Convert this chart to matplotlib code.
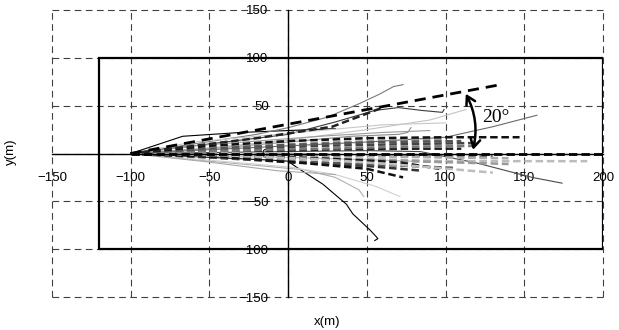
import numpy as np
import matplotlib
matplotlib.use("Agg")
import matplotlib.pyplot as plt
from matplotlib.patches import Rectangle

plt.rcParams['font.family'] = ['Liberation Sans', 'DejaVu Sans']

# axis ticks
x_ticks = [-150, -100, -50, 0, 50, 100, 150, 200]
y_ticks = [-150, -100, -50, 0, 50, 100, 150]

# region box (x0, y0, x1, y1)
box = [-120, -100, 200, 100]

# trajectories (x list, y list)
solid_x = [
    [-100, -50, -10, 0, 5, 22, 37, 41, 52, 56, 57, 55],
    [-100, -67, -30, 0, 30],
    [-100, -60, -20, 0, 25, 45, 58, 67, 73],
    [-100, -50, 0, 30, 55, 70, 85, 98, 99],
    [-100, -50, 0, 50, 100, 130, 158],
    [-100, -50, 0, 50, 90, 113],
    [-100, -50, 0, 40, 70, 76, 78],
    [-100, -50, 0, 50, 84, 120, 155, 174],
    [-100, -50, -10, 10, 30, 45, 48],
    [-100, -50, 0, 30, 55, 71],
    [-100, -50, -7, 30],
    [-100, -60, -20, 20, 60, 100],
    [-100, -60, -20, 20, 60, 90],
    [-100, -50, 0, 40, 80],
]
solid_y = [
    [0, -4, -7, -8, -14, -32, -53, -63, -80, -87, -89, -91],
    [0, 18, 22, 24, 26],
    [0, 10, 20, 27, 38, 52, 62, 70, 72],
    [0, 10, 20, 33, 45, 48, 45, 43, 46],
    [0, 4, 8, 12, 17, 28, 40],
    [0, 6, 14, 25, 35, 46],
    [0, 5, 12, 18, 20, 22, 27],
    [0, 1, 2, 3, 2, -10, -25, -31],
    [0, -8, -14, -17, -25, -38, -45],
    [0, -7, -14, -22, -34, -45],
    [0, -9, -18, -22],
    [0, 12, 18, 24, 30, 32],
    [0, 8, 13, 18, 22, 24],
    [0, -3, -4, -6, -8],
]
solid_c = ['#000000', '#000000', '#7a7a7a', '#3a3a3a', '#6a6a6a', '#c4c4c4',
           '#8a8a8a', '#4a4a4a', '#b0b0b0', '#d0d0d0', '#a8a8a8', '#c8c8c8',
           '#9a9a9a', '#bdbdbd']

dash_x = [
    [-100, -40, 20, 80, 120],
    [-100, -40, 20, 80, 110],
    [-100, -40, 20, 80, 130],
    [-100, -40, 20, 80, 100],
    [-100, -40, 20, 70, 100],
    [-100, -40, 20, 90, 140],
    [-100, -40, 0, 50, 85],
    [-100, -40, 20, 70, 120],
    [-100, -50, 0, 60, 100, 150, 190],
    [-100, -40, 20, 80, 140],
    [-100, -50, 0, 60, 105],
    [-100, -50, 0, 60, 110],
    [-100, -40, 10, 50, 73],
    [-100, -40, 20, 70, 96],
    [-100, -40, 20, 80, 130],
    [-100, -50, 0, 50, 100, 147],
    [-100, -60, -20, 28, 60],
]
dash_y = [
    [0, 4, 8, 10, 11],
    [0, 2, 4, 5, 5],
    [0, -1, -2, -3, -3],
    [0, -3, -6, -8, -9],
    [0, 6, 11, 14, 15],
    [0, 1, -1, -4, -5],
    [0, -5, -9, -13, -18],
    [0, 3, 5, 7, 8],
    [0, -1, -3, -6, -8, -8, -8],
    [0, -2, -5, -8, -11],
    [0, -4, -8, -12, -15],
    [0, 5, 9, 12, 13],
    [0, -4, -10, -16, -25],
    [0, -2, -5, -9, -16],
    [0, -2, -6, -13, -20],
    [0, 8, 13, 16, 17, 17],
    [0, 8, 16, 28, 48],
]
dash_c = ['#444444', '#222222', '#666666', '#888888', '#999999', '#aaaaaa',
          '#333333', '#777777', '#bbbbbb', '#999999', '#555555', '#555555',
          '#111111', '#1a1a1a', '#bcbcbc', '#111111', '#222222']

# reference lines: 20 degree line and the 0 line
ref20_x = [-100, 135]
ref20_y = [0, 72]
ref0_x = [-100, 200]
ref0_y = [0, 0]

fig = plt.figure(figsize=(6.19, 3.30), dpi=100)
ax = fig.add_axes([52 / 619, 33 / 330, 551 / 619, 287 / 330])
ax.set_xlim(-150, 200)
ax.set_ylim(-150, 150)
ax.set_xticks(x_ticks)
ax.set_yticks(y_ticks)
ax.set_xticklabels([str(v).replace('-', '\u2212') for v in x_ticks])
ax.set_yticklabels([str(v).replace('-', '\u2212') for v in y_ticks])

for s in ['top', 'right']:
    ax.spines[s].set_visible(False)
ax.spines['left'].set_position(('data', 0))
ax.spines['bottom'].set_position(('data', 0))
ax.spines['left'].set_linewidth(1.0)
ax.spines['bottom'].set_linewidth(1.0)
ax.tick_params(axis='x', length=0, pad=13, labelsize=9.5)
ax.tick_params(axis='y', length=0, pad=14, labelsize=9.5)

# dashed grid incl. outer border
for v in x_ticks:
    ax.axvline(v, color='#404040', lw=0.8, ls=(0, (6, 4)), zorder=0, clip_on=False)
for v in y_ticks:
    ax.axhline(v, color='#404040', lw=0.8, ls=(0, (6, 4)), zorder=0, clip_on=False)

ax.add_patch(Rectangle((box[0], box[1]), box[2] - box[0], box[3] - box[1],
                       fill=False, ec='black', lw=1.6, zorder=3))

for xs, ys, c in zip(solid_x, solid_y, solid_c):
    ax.plot(xs, ys, color=c, lw=0.8, zorder=2)
for xs, ys, c in zip(dash_x, dash_y, dash_c):
    ax.plot(xs, ys, color=c, lw=1.8, ls=(0, (3, 1.5)), zorder=2)

ax.plot(ref20_x, ref20_y, color='black', lw=2.0, ls=(0, (4, 2.5)), zorder=4)
ax.plot(ref0_x, ref0_y, color='black', lw=2.0, ls=(0, (3, 1.5)), zorder=4)

ax.annotate('', xy=(112, 65), xytext=(117, 1),
            arrowprops=dict(arrowstyle='<->,head_length=0.6,head_width=0.35',
                            color='black', lw=1.8,
                            connectionstyle='arc3,rad=0.2'), zorder=5)
ax.text(132, 38, '20°', family=['Liberation Serif', 'DejaVu Serif'],
        fontsize=14, ha='center', va='center', zorder=5)

fig.text(327 / 619, 1 - 322 / 330, 'x(m)', ha='center', va='center', fontsize=9.5)
fig.text(11 / 619, 1 - 152 / 330, 'y(m)', ha='center', va='center',
         rotation=90, fontsize=9.5)

fig.savefig('out.png', dpi=100)
